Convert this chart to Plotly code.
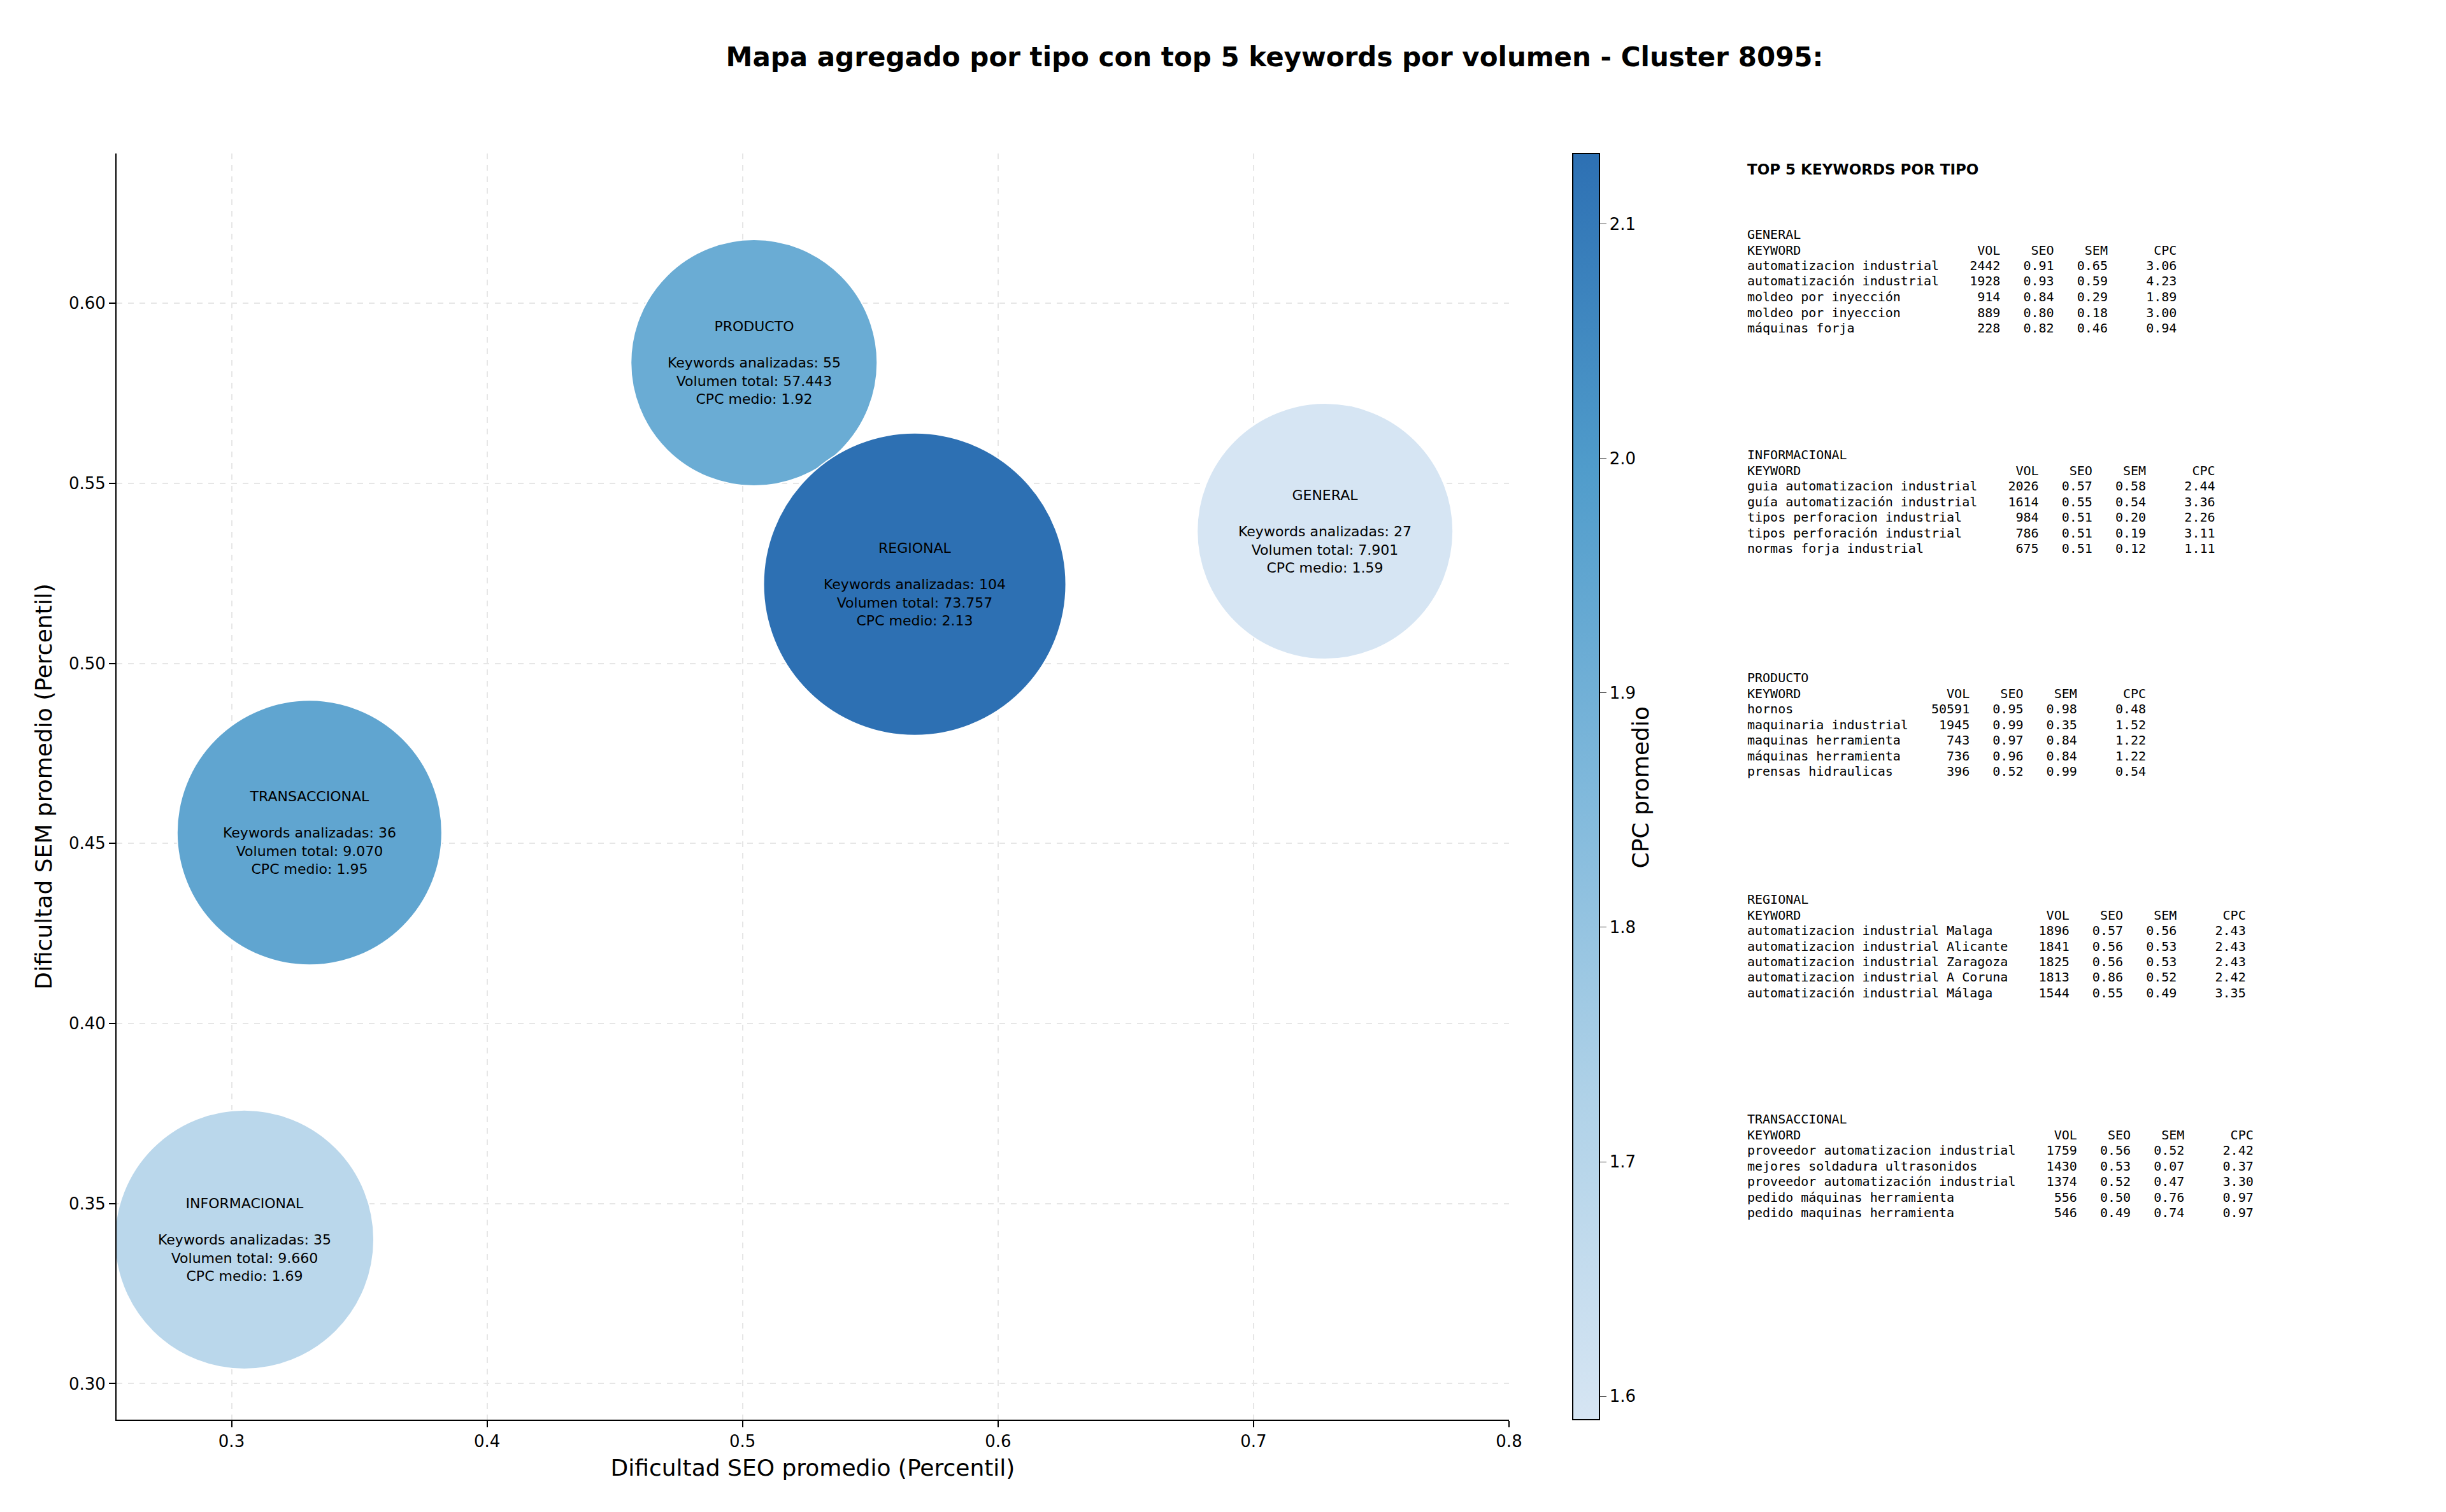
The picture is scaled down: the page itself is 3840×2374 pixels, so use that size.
import plotly.graph_objects as go

tipos = ["GENERAL", "INFORMACIONAL", "PRODUCTO", "REGIONAL", "TRANSACCIONAL"]
seo_prom = [0.728, 0.305, 0.5045, 0.5674, 0.3305]
sem_prom = [0.5367, 0.340, 0.5835, 0.522, 0.453]
n_keywords = [27, 35, 55, 104, 36]
vol_total = ["7.901", "9.660", "57.443", "73.757", "9.070"]
cpc_medio = [1.59, 1.69, 1.92, 2.13, 1.95]
bubble_px = [402, 407, 387, 475, 416]

top_kw = {
    "GENERAL": [
        ("automatizacion industrial", 2442, 0.91, 0.65, 3.06),
        ("automatización industrial", 1928, 0.93, 0.59, 4.23),
        ("moldeo por inyección", 914, 0.84, 0.29, 1.89),
        ("moldeo por inyeccion", 889, 0.80, 0.18, 3.00),
        ("máquinas forja", 228, 0.82, 0.46, 0.94)],
    "INFORMACIONAL": [
        ("guia automatizacion industrial", 2026, 0.57, 0.58, 2.44),
        ("guía automatización industrial", 1614, 0.55, 0.54, 3.36),
        ("tipos perforacion industrial", 984, 0.51, 0.20, 2.26),
        ("tipos perforación industrial", 786, 0.51, 0.19, 3.11),
        ("normas forja industrial", 675, 0.51, 0.12, 1.11)],
    "PRODUCTO": [
        ("hornos", 50591, 0.95, 0.98, 0.48),
        ("maquinaria industrial", 1945, 0.99, 0.35, 1.52),
        ("maquinas herramienta", 743, 0.97, 0.84, 1.22),
        ("máquinas herramienta", 736, 0.96, 0.84, 1.22),
        ("prensas hidraulicas", 396, 0.52, 0.99, 0.54)],
    "REGIONAL": [
        ("automatizacion industrial Malaga", 1896, 0.57, 0.56, 2.43),
        ("automatizacion industrial Alicante", 1841, 0.56, 0.53, 2.43),
        ("automatizacion industrial Zaragoza", 1825, 0.56, 0.53, 2.43),
        ("automatizacion industrial A Coruna", 1813, 0.86, 0.52, 2.42),
        ("automatización industrial Málaga", 1544, 0.55, 0.49, 3.35)],
    "TRANSACCIONAL": [
        ("proveedor automatizacion industrial", 1759, 0.56, 0.52, 2.42),
        ("mejores soldadura ultrasonidos", 1430, 0.53, 0.07, 0.37),
        ("proveedor automatización industrial", 1374, 0.52, 0.47, 3.30),
        ("pedido máquinas herramienta", 556, 0.50, 0.76, 0.97),
        ("pedido maquinas herramienta", 546, 0.49, 0.74, 0.97)],
}

W, H = 3840, 2374
L, R, T, B = 175, 2361, 233, 2221
def px(x): return (x - L) / (R - L)
def py(y): return (B - y) / (B - T)

blues = [[0, "#d6e5f3"], [0.25, "#b0d2e8"], [0.5, "#7fb8db"], [0.75, "#509ccb"], [1, "#2d70b3"]]

fig = go.Figure()
fig.add_trace(go.Scatter(
    x=seo_prom, y=sem_prom, mode="markers",
    marker=dict(size=bubble_px, sizemode="diameter", color=cpc_medio, colorscale=blues,
                cmin=min(cpc_medio), cmax=max(cpc_medio), opacity=1,
                line=dict(color="white", width=2),
                colorbar=dict(x=px(2461), xanchor="left", xref="paper", xpad=0, ypad=0,
                              y=0.5, yanchor="middle",
                              len=B - T, lenmode="pixels", thickness=42, outlinecolor="black", outlinewidth=2,
                              tickvals=[1.6, 1.7, 1.8, 1.9, 2.0, 2.1], ticktext=["1.6", "1.7", "1.8", "1.9", "2.0", "2.1"],
                              ticks="outside", ticklen=10, tickfont=dict(size=26, color="black"))),
    showlegend=False, hoverinfo="skip"))

ann = []
for t, x, y, n, v, c in zip(tipos, seo_prom, sem_prom, n_keywords, vol_total, cpc_medio):
    ann.append(dict(x=x, y=y, xref="x", yref="y", showarrow=False,
                    text=f"{t}<br> <br>Keywords analizadas: {n}<br>Volumen total: {v}<br>CPC medio: {c:.2f}",
                    font=dict(size=22, color="black", family="DejaVu Sans"), align="center"))

ann.append(dict(x=px(2589), y=py(1229), xref="paper", yref="paper", showarrow=False, textangle=-90,
                text="CPC promedio", font=dict(size=36, color="black", family="DejaVu Sans")))
ann.append(dict(x=px(2733), y=py(243), xref="paper", yref="paper", showarrow=False, xanchor="left",
                text="<b>TOP 5 KEYWORDS POR TIPO</b>", font=dict(size=23, color="black", family="DejaVu Sans")))

starts = [360, 706, 1056, 1404, 1749]
lh = 24.5
nb = "\u00a0"
for t, y0 in zip(tipos, starts):
    rows = top_kw[t]
    w = max(len(r[0]) for r in rows)
    lines = [t, "KEYWORD".ljust(w) + f"{'VOL':>8}{'SEO':>7}{'SEM':>7}{'CPC':>9}"]
    for k, v, s, m, c in rows:
        lines.append(k.ljust(w) + f"{v:>8}{s:>7.2f}{m:>7.2f}{c:>9.2f}")
    for i, ln in enumerate(lines):
        ann.append(dict(x=px(2733), y=py(y0 + i * lh), xref="paper", yref="paper", showarrow=False,
                        xanchor="left", yanchor="middle", text=ln.replace(" ", nb),
                        font=dict(size=20, color="black", family="DejaVu Sans Mono")))

axis_common = dict(showline=True, linecolor="black", linewidth=2, mirror=False, ticks="outside",
                   ticklen=10, tickwidth=2, tickcolor="black", tickfont=dict(size=26, color="black"),
                   showgrid=True, gridcolor="#e6e6e6", griddash="dash", gridwidth=2, zeroline=False)
fig.update_layout(
    width=W, height=H, paper_bgcolor="white", plot_bgcolor="white",
    margin=dict(l=L, r=W - R, t=T, b=H - B), font=dict(family="DejaVu Sans", color="black"),
    title=dict(text="<b>Mapa agregado por tipo con top 5 keywords por volumen - Cluster 8095:</b>",
               x=1993 / W, xref="container", xanchor="center",
               y=1 - 81 / H, yref="container", yanchor="middle",
               font=dict(size=42, color="black", family="DejaVu Sans")),
    xaxis=dict(range=[0.255, 0.8], tickvals=[0.3, 0.4, 0.5, 0.6, 0.7, 0.8],
               title=dict(text="Dificultad SEO promedio (Percentil)", font=dict(size=36)), **axis_common),
    yaxis=dict(range=[0.290, 0.6416], tickvals=[0.30, 0.35, 0.40, 0.45, 0.50, 0.55, 0.60],
               ticktext=["0.30", "0.35", "0.40", "0.45", "0.50", "0.55", "0.60"],
               title=dict(text="Dificultad SEM promedio (Percentil)", font=dict(size=36)), **axis_common),
    annotations=ann)
fig.write_html("out.html")
